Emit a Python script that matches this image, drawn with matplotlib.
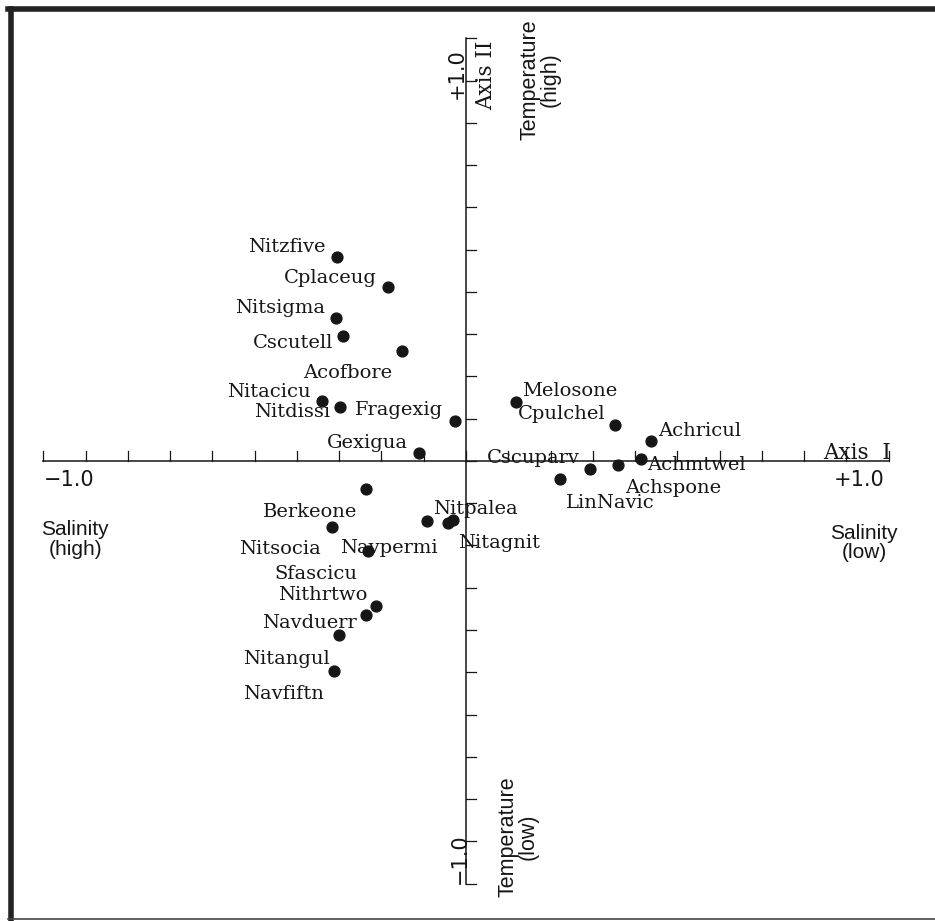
import numpy as np
import matplotlib
matplotlib.use("Agg")
import matplotlib.pyplot as plt
from matplotlib.lines import Line2D

# species scores on the two ordination axes
species = ["Nitzfive", "Cplaceug", "Nitsigma", "Cscutell", "Acofbore", "Nitacicu",
           "Nitdissi", "Fragexig", "Gexigua", "Melosone", "Cpulchel", "Achricul",
           "Achmtwel", "Achspone", "Cscuparv", "LinNavic", "Berkeone", "Nitsocia",
           "Sfascicu", "Navpermi", "Nitpalea", "Nitagnit", "Nithrtwo", "Navduerr",
           "Nitangul", "Navfiftn"]
axis1 = [-0.305, -0.185, -0.308, -0.291, -0.151, -0.341,
         -0.298, -0.026, -0.111, 0.118, 0.353, 0.438,
         0.414, 0.360, 0.293, 0.222, -0.237, -0.317,
         -0.232, -0.092, -0.043, -0.031, -0.213, -0.237,
         -0.301, -0.312]
axis2 = [0.483, 0.412, 0.338, 0.296, 0.260, 0.142,
         0.128, 0.095, 0.019, 0.140, 0.085, 0.047,
         0.005, -0.009, -0.019, -0.043, -0.066, -0.156,
         -0.213, -0.142, -0.147, -0.140, -0.343, -0.364,
         -0.412, -0.497]

# label placement: (ha, dx px, dy px to baseline)
label_pos = {
    "Nitzfive": ("right", -12, 5), "Cplaceug": ("right", -11, 4),
    "Nitsigma": ("right", -11, 5), "Cscutell": ("right", -10, -12),
    "Acofbore": ("right", -10, -27), "Nitacicu": ("right", -11, 4),
    "Nitdissi": ("right", -10, -10), "Fragexig": ("right", -12, 6),
    "Gexigua": ("right", -11, 5), "Melosone": ("left", 6, 6),
    "Cpulchel": ("right", -10, 6), "Achricul": ("left", 7, 5),
    "Achmtwel": ("left", 6, -11), "Achspone": ("left", 7, -28),
    "Cscuparv": ("right", -10, 6), "LinNavic": ("left", 6, -29),
    "Berkeone": ("right", -9, -28), "Nitsocia": ("right", -11, -27),
    "Sfascicu": ("right", -11, -28), "Navpermi": ("right", 11, -32),
    "Nitpalea": ("left", -15, 9), "Nitagnit": ("left", 5, -28),
    "Nithrtwo": ("right", -9, 6), "Navduerr": ("right", -9, -13),
    "Nitangul": ("right", -9, -29), "Navfiftn": ("right", -10, -28),
}

ticks = np.round(np.arange(-1.0, 1.01, 0.1), 1)
ink = "#161616"
serif = "DejaVu Serif"
sans = "Liberation Sans"

fig = plt.figure(figsize=(9.35, 9.21), dpi=100)
ax = fig.add_axes([0, 0, 1, 1])
ax.set_xlim(-466 / 422.5, (935 - 466) / 422.5)
ax.set_ylim(-(921 - 461) / 422.5, 461 / 422.5)
ax.axis("off")

# the two axes with ticks
tl = 10 / 422.5
ax.plot([-1, 1], [0, 0], color=ink, lw=1.1)
ax.plot([0, 0], [-1, 1], color=ink, lw=1.1)
for t in ticks:
    ax.plot([t, t], [0, tl], color=ink, lw=0.9)
    ax.plot([0, tl], [t, t], color=ink, lw=0.9)

# species points
ax.plot(axis1, axis2, "o", color=ink, ms=7.8, mec=ink)
for name, x, y in zip(species, axis1, axis2):
    ha, dx, dy = label_pos[name]
    ax.annotate(name, (x, y), xytext=(dx, dy), textcoords="offset pixels",
                ha=ha, va="baseline", fontsize=14, family=serif, color=ink)

# axis annotations
ax.text(-1.0, -0.045, "\u22121.0", ha="left", va="center", fontsize=15, family="DejaVu Sans", color=ink)
ax.text(0.93, -0.045, "+1.0", ha="center", va="center", fontsize=15, family="DejaVu Sans", color=ink)
ax.text(1.006, 0.005, "Axis  I", ha="right", va="baseline", fontsize=15.5, family=serif, color=ink)
ax.text(-0.021, 0.918, "+1.0", ha="center", va="center", rotation=90, fontsize=15, family="DejaVu Sans", color=ink)
ax.text(-0.014, -0.942, "\u22121.0", ha="center", va="center", rotation=90, fontsize=15, family="DejaVu Sans", color=ink)
ax.text(0.047, 0.912, "Axis II", ha="center", va="center", rotation=90, fontsize=15.5, family=serif, color=ink)

ax.text(-0.925, -0.185, "Salinity\n(high)", ha="center", va="center", multialignment="center",
        fontsize=15, family=sans, color=ink, linespacing=1.05)
ax.text(0.942, -0.194, "Salinity\n(low)", ha="center", va="center", multialignment="center",
        fontsize=15, family=sans, color=ink, linespacing=1.05)
ax.text(0.175, 0.902, "Temperature\n(high)", ha="center", va="center", rotation=90,
        multialignment="center", fontsize=15.5, family=sans, color=ink, linespacing=0.95)
ax.text(0.123, -0.890, "Temperature\n(low)", ha="center", va="center", rotation=90,
        multialignment="center", fontsize=15.5, family=sans, color=ink, linespacing=0.95)

# picture frame (thick top/left, thin bottom)
W, H = 935.0, 921.0
fig.add_artist(Line2D([8 / W, 1], [1 - 9.5 / H, 1 - 9.5 / H], color="#222222", lw=4, transform=fig.transFigure))
fig.add_artist(Line2D([10.5 / W, 10.5 / W], [1 - 9.5 / H, 1 - 919 / H], color="#222222", lw=4, transform=fig.transFigure))
fig.add_artist(Line2D([8 / W, 1], [1 - 918.5 / H, 1 - 918.5 / H], color="#444444", lw=1.2, transform=fig.transFigure))

fig.savefig("out.png", dpi=100)
